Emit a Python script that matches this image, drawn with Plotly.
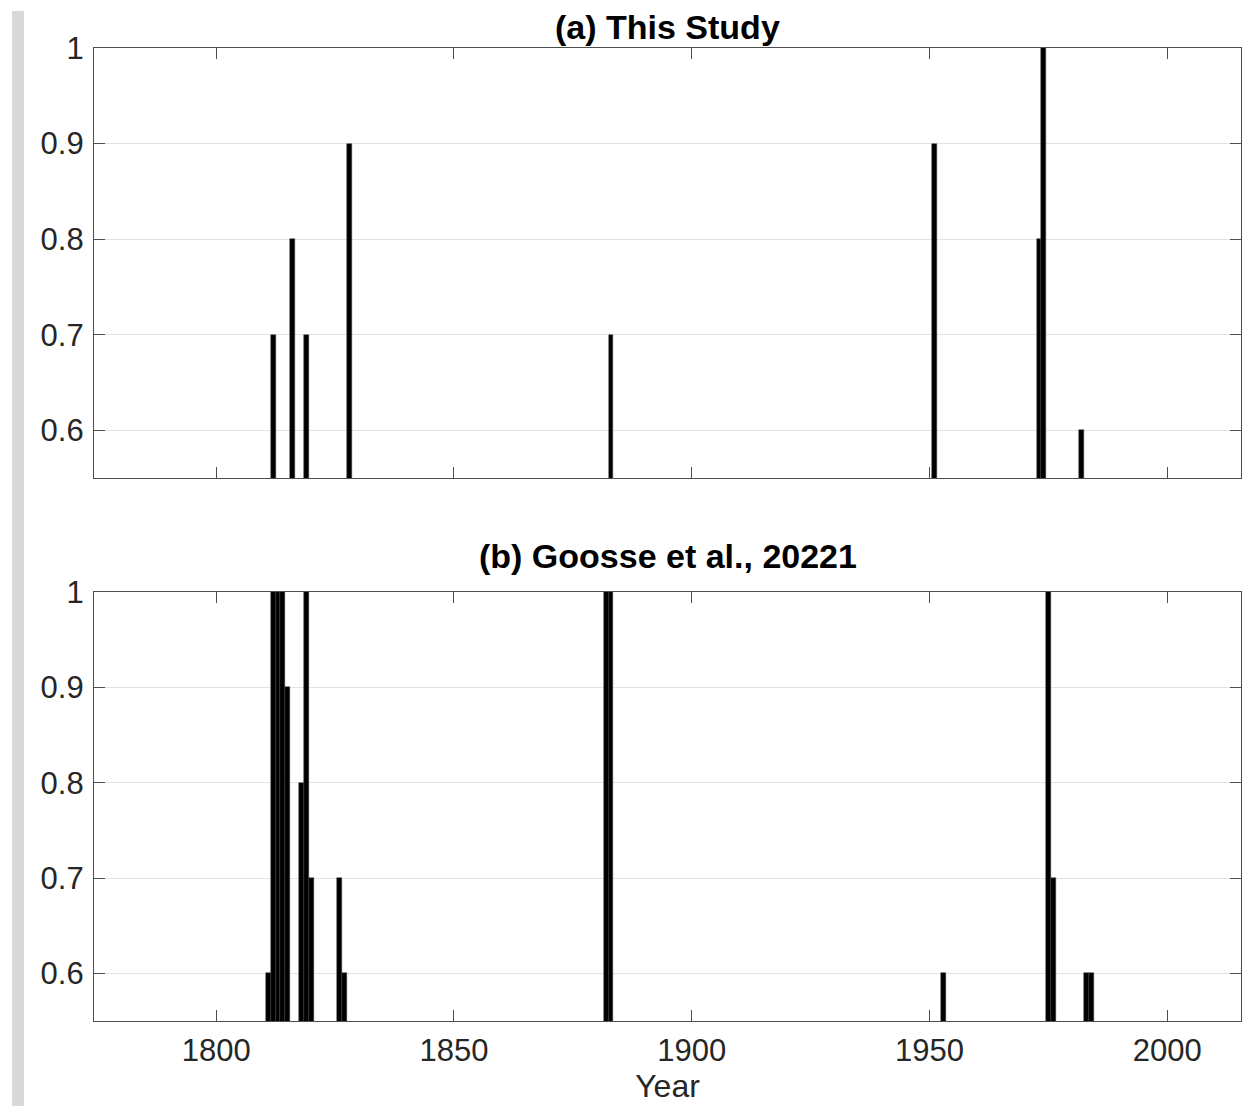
import plotly.graph_objects as go

# Data
top_years = [1812, 1816, 1819, 1828, 1883, 1951, 1973, 1974, 1982]
top_vals = [0.7, 0.8, 0.7, 0.9, 0.7, 0.9, 0.8, 1.0, 0.6]
bot_years = [1811, 1812, 1813, 1814, 1815, 1818, 1819, 1820, 1826, 1827,
             1882, 1883, 1953, 1975, 1976, 1983, 1984]
bot_vals = [0.6, 1.0, 1.0, 1.0, 0.9, 0.8, 1.0, 0.7, 0.7, 0.6,
            1.0, 1.0, 0.6, 1.0, 0.7, 0.6, 0.6]
x_ticks = [1800, 1850, 1900, 1950, 2000]
y_ticks = [0.6, 0.7, 0.8, 0.9, 1.0]
y_tick_text = ["0.6", "0.7", "0.8", "0.9", "1"]
titles = ["(a) This Study", "(b) Goosse et al., 20221"]

FONT = "Liberation Sans, Arial, sans-serif"
bar_style = dict(marker=dict(color="black", line=dict(color="#3a3a3a", width=0.5)),
                 width=1, showlegend=False)

fig = go.Figure()
fig.add_trace(go.Bar(x=top_years, y=top_vals, xaxis="x", yaxis="y", **bar_style))
fig.add_trace(go.Bar(x=bot_years, y=bot_vals, xaxis="x2", yaxis="y2", **bar_style))

axis_common = dict(showline=True, linecolor="#4d4d4d", linewidth=1.3, mirror="ticks",
                   ticks="inside", ticklen=11, tickcolor="#4d4d4d",
                   tickfont=dict(family=FONT, size=31, color="#262626"), zeroline=False)

xr = [1774.3, 2015.5]
yr = [0.55, 1.0]
fig.update_layout(
    width=1251, height=1106,
    paper_bgcolor="white", plot_bgcolor="white",
    margin=dict(l=86, r=18, t=40, b=93),
    bargap=0,
    xaxis=dict(domain=[0, 1], anchor="y", range=xr, tickvals=x_ticks,
               showticklabels=False, showgrid=False, **axis_common),
    yaxis=dict(domain=[0.558, 1], anchor="x", range=yr, tickvals=y_ticks,
               ticktext=y_tick_text, showgrid=True, gridcolor="#e3e3e3",
               ticklabelstandoff=3, **axis_common),
    xaxis2=dict(domain=[0, 1], anchor="y2", range=xr, tickvals=x_ticks,
                showgrid=False, ticklabelstandoff=2,
                title=dict(text="Year", font=dict(family=FONT, size=32, color="#262626"),
                           standoff=6),
                **axis_common),
    yaxis2=dict(domain=[0, 0.4409], anchor="x2", range=yr, tickvals=y_ticks,
                ticktext=y_tick_text, showgrid=True, gridcolor="#e3e3e3",
                ticklabelstandoff=3, **axis_common),
    shapes=[dict(type="rect", xref="paper", yref="paper", x0=-0.0715, x1=-0.061,
                 y0=-0.12, y1=1.038, fillcolor="#d9d9d9", line=dict(width=0),
                 layer="below")],
    annotations=[
        dict(text="<b>%s</b>" % titles[0], xref="paper", yref="paper", x=0.5, y=1.0,
             yshift=21, xanchor="center", yanchor="middle", showarrow=False,
             font=dict(family=FONT, size=34, color="black")),
        dict(text="<b>%s</b>" % titles[1], xref="paper", yref="paper", x=0.5, y=0.4409,
             yshift=36, xanchor="center", yanchor="middle", showarrow=False,
             font=dict(family=FONT, size=34, color="black")),
    ],
)

fig.write_html("out.html")
